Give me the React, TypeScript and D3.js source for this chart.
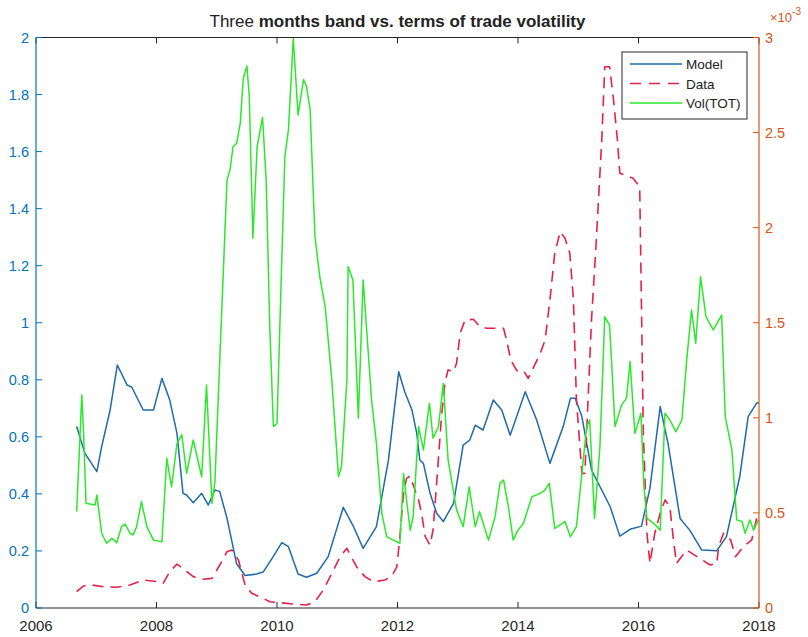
import React from "react";
import * as d3 from "d3";

// Model band (left axis)
const modelYears = [2006.675, 2006.81, 2007.01, 2007.09, 2007.23, 2007.35, 2007.51, 2007.59, 2007.78, 2007.95, 2008.09, 2008.22, 2008.34, 2008.44, 2008.5, 2008.61, 2008.75, 2008.86, 2008.97, 2009.05, 2009.17, 2009.33, 2009.47, 2009.66, 2009.77, 2009.9, 2010.08, 2010.19, 2010.35, 2010.49, 2010.66, 2010.85, 2011.1, 2011.27, 2011.43, 2011.65, 2011.85, 2012.02, 2012.12, 2012.24, 2012.32, 2012.37, 2012.43, 2012.54, 2012.65, 2012.76, 2012.93, 2013.09, 2013.2, 2013.29, 2013.42, 2013.59, 2013.73, 2013.87, 2014.12, 2014.31, 2014.53, 2014.75, 2014.87, 2014.95, 2015.06, 2015.22, 2015.53, 2015.69, 2015.86, 2016.05, 2016.19, 2016.36, 2016.49, 2016.69, 2016.85, 2017.05, 2017.3, 2017.46, 2017.68, 2017.82, 2017.96, 2018.0];
const modelValues = [0.636, 0.543, 0.478, 0.566, 0.694, 0.852, 0.782, 0.774, 0.694, 0.694, 0.805, 0.729, 0.612, 0.402, 0.396, 0.369, 0.402, 0.361, 0.414, 0.408, 0.315, 0.155, 0.114, 0.119, 0.126, 0.168, 0.229, 0.215, 0.119, 0.108, 0.122, 0.18, 0.353, 0.285, 0.209, 0.285, 0.519, 0.828, 0.758, 0.694, 0.612, 0.519, 0.507, 0.402, 0.332, 0.303, 0.367, 0.571, 0.589, 0.641, 0.624, 0.729, 0.694, 0.606, 0.758, 0.659, 0.507, 0.636, 0.735, 0.735, 0.671, 0.484, 0.355, 0.252, 0.276, 0.287, 0.42, 0.706, 0.577, 0.314, 0.273, 0.203, 0.201, 0.25, 0.46, 0.671, 0.718, 0.72];

// Measured band (right axis, x10^-3)
const dataYears = [2006.675, 2006.79, 2006.92, 2007.12, 2007.34, 2007.56, 2007.78, 2008.03, 2008.11, 2008.22, 2008.34, 2008.47, 2008.61, 2008.78, 2008.92, 2009.05, 2009.17, 2009.25, 2009.36, 2009.47, 2009.58, 2009.77, 2009.88, 2010.05, 2010.27, 2010.49, 2010.63, 2010.77, 2010.91, 2011.05, 2011.16, 2011.32, 2011.46, 2011.6, 2011.79, 2011.9, 2011.99, 2012.04, 2012.1, 2012.15, 2012.21, 2012.29, 2012.35, 2012.4, 2012.46, 2012.54, 2012.59, 2012.65, 2012.73, 2012.79, 2012.84, 2012.93, 2012.98, 2013.04, 2013.12, 2013.26, 2013.37, 2013.48, 2013.59, 2013.76, 2013.81, 2013.88, 2013.98, 2014.09, 2014.17, 2014.25, 2014.37, 2014.45, 2014.53, 2014.61, 2014.7, 2014.78, 2014.86, 2014.92, 2014.97, 2015.06, 2015.11, 2015.22, 2015.3, 2015.39, 2015.44, 2015.52, 2015.58, 2015.65, 2015.69, 2015.91, 2016.02, 2016.08, 2016.14, 2016.19, 2016.27, 2016.36, 2016.44, 2016.52, 2016.58, 2016.63, 2016.8, 2016.97, 2017.19, 2017.3, 2017.33, 2017.41, 2017.53, 2017.61, 2017.74, 2017.88, 2017.98];
const dataValues = [0.086, 0.116, 0.121, 0.112, 0.109, 0.121, 0.147, 0.138, 0.13, 0.191, 0.231, 0.2, 0.165, 0.151, 0.156, 0.226, 0.296, 0.305, 0.252, 0.121, 0.077, 0.051, 0.033, 0.028, 0.021, 0.016, 0.033, 0.095, 0.182, 0.27, 0.314, 0.217, 0.165, 0.138, 0.147, 0.165, 0.217, 0.375, 0.603, 0.682, 0.694, 0.62, 0.568, 0.498, 0.375, 0.331, 0.41, 0.656, 1.006, 1.19, 1.252, 1.243, 1.287, 1.445, 1.514, 1.518, 1.479, 1.471, 1.471, 1.471, 1.409, 1.304, 1.248, 1.248, 1.208, 1.26, 1.339, 1.409, 1.62, 1.865, 1.979, 1.944, 1.865, 1.62, 1.094, 0.708, 0.708, 1.514, 1.935, 2.461, 2.846, 2.846, 2.689, 2.461, 2.286, 2.26, 2.215, 0.919, 0.393, 0.235, 0.393, 0.498, 0.568, 0.533, 0.358, 0.235, 0.305, 0.27, 0.226, 0.235, 0.322, 0.393, 0.358, 0.27, 0.322, 0.358, 0.498];

// Terms of trade volatility (left axis)
const volYears = [2006.675, 2006.76, 2006.79, 2006.83, 2006.98, 2007.01, 2007.09, 2007.17, 2007.26, 2007.34, 2007.42, 2007.48, 2007.56, 2007.61, 2007.67, 2007.75, 2007.84, 2007.95, 2008.09, 2008.17, 2008.25, 2008.34, 2008.42, 2008.5, 2008.61, 2008.75, 2008.83, 2008.92, 2008.97, 2009.05, 2009.17, 2009.22, 2009.27, 2009.33, 2009.39, 2009.44, 2009.5, 2009.54, 2009.6, 2009.67, 2009.76, 2009.82, 2009.88, 2009.94, 2010.0, 2010.06, 2010.13, 2010.19, 2010.27, 2010.35, 2010.44, 2010.49, 2010.55, 2010.63, 2010.71, 2010.8, 2010.91, 2011.02, 2011.07, 2011.16, 2011.18, 2011.26, 2011.35, 2011.43, 2011.57, 2011.65, 2011.74, 2011.82, 2011.93, 2012.04, 2012.1, 2012.15, 2012.21, 2012.26, 2012.35, 2012.43, 2012.53, 2012.59, 2012.68, 2012.76, 2012.84, 2012.98, 2013.09, 2013.19, 2013.29, 2013.36, 2013.51, 2013.62, 2013.7, 2013.76, 2013.84, 2013.92, 2014.0, 2014.09, 2014.23, 2014.37, 2014.45, 2014.52, 2014.61, 2014.78, 2014.87, 2014.97, 2015.06, 2015.14, 2015.19, 2015.27, 2015.36, 2015.44, 2015.52, 2015.61, 2015.72, 2015.8, 2015.86, 2015.94, 2016.04, 2016.09, 2016.14, 2016.25, 2016.36, 2016.44, 2016.52, 2016.62, 2016.72, 2016.8, 2016.88, 2016.95, 2017.03, 2017.12, 2017.24, 2017.38, 2017.44, 2017.55, 2017.63, 2017.72, 2017.77, 2017.85, 2017.91, 2017.99];
const volValues = [0.338, 0.747, 0.612, 0.367, 0.361, 0.396, 0.262, 0.227, 0.244, 0.229, 0.285, 0.294, 0.262, 0.256, 0.285, 0.373, 0.285, 0.238, 0.232, 0.525, 0.425, 0.577, 0.607, 0.472, 0.589, 0.46, 0.782, 0.367, 0.443, 0.869, 1.5, 1.536, 1.617, 1.629, 1.699, 1.857, 1.9, 1.793, 1.296, 1.617, 1.72, 1.5, 0.986, 0.636, 0.647, 1.08, 1.582, 1.676, 1.997, 1.728, 1.853, 1.828, 1.746, 1.302, 1.161, 1.056, 0.799, 0.46, 0.495, 0.799, 1.197, 1.15, 0.665, 1.15, 0.729, 0.577, 0.332, 0.25, 0.238, 0.227, 0.472, 0.379, 0.273, 0.32, 0.636, 0.554, 0.718, 0.595, 0.636, 0.788, 0.519, 0.344, 0.285, 0.425, 0.285, 0.338, 0.238, 0.32, 0.437, 0.449, 0.355, 0.238, 0.273, 0.297, 0.39, 0.402, 0.414, 0.437, 0.279, 0.303, 0.25, 0.285, 0.472, 0.636, 0.659, 0.314, 0.566, 1.021, 0.992, 0.636, 0.712, 0.735, 0.864, 0.612, 0.683, 0.425, 0.314, 0.297, 0.273, 0.683, 0.659, 0.618, 0.659, 0.869, 1.045, 0.928, 1.161, 1.021, 0.975, 1.027, 0.671, 0.554, 0.309, 0.303, 0.262, 0.309, 0.273, 0.309];

const xTicks = [2006, 2008, 2010, 2012, 2014, 2016, 2018];
const leftTicks = [0, 0.2, 0.4, 0.6, 0.8, 1, 1.2, 1.4, 1.6, 1.8, 2];
const rightTicks = [0, 0.5, 1, 1.5, 2, 2.5, 3];
const legendItems = ["Model", "Data", "Vol(TOT)"];

const W = 808;
const H = 637;
const M = { left: 36, right: 759, top: 37.5, bottom: 608 };

const BLUE_AX = "#0072BD";
const ORANGE_AX = "#D95319";
const MODEL_C = "#1f6aa8";
const DATA_C = "#e5204a";
const VOL_C = "#2be82b";
const FONT = "'Liberation Sans', Arial, Helvetica, sans-serif";

export default function App() {
  const x = d3.scaleLinear().domain([2006, 2018]).range([M.left, M.right]);
  const yL = d3.scaleLinear().domain([0, 2]).range([M.bottom, M.top]);
  const yR = d3.scaleLinear().domain([0, 3]).range([M.bottom, M.top]);

  const toPts = (xs: number[], ys: number[]) => xs.map((t, i) => [t, ys[i]] as [number, number]);
  const lineL = d3.line<[number, number]>().x((d) => x(d[0])).y((d) => yL(d[1]));
  const lineR = d3.line<[number, number]>().x((d) => x(d[0])).y((d) => yR(d[1]));

  const modelPath = lineL(toPts(modelYears, modelValues)) || "";
  const volPath = lineL(toPts(volYears, volValues)) || "";
  const dataPath = lineR(toPts(dataYears, dataValues)) || "";

  const tickLen = 6;
  const legendColors = [MODEL_C, DATA_C, VOL_C];
  const legendDash = [undefined, "11,8", undefined];

  return (
    <svg
      width={W}
      height={H}
      style={{ position: "absolute", left: 0, top: 0, background: "#fff" }}
      fontFamily={FONT}
    >
      <rect x={0} y={0} width={W} height={H} fill="#fff" />

      <defs>
        <clipPath id="plotArea">
          <rect x={M.left} y={M.top - 2} width={M.right - M.left} height={M.bottom - M.top + 2} />
        </clipPath>
      </defs>

      {/* title */}
      <text x={(M.left + M.right) / 2} y={27} textAnchor="middle" fontSize={17} fill="#222">
        <tspan>Three </tspan>
        <tspan fontWeight="bold">months band vs. terms of trade volatility</tspan>
      </text>

      {/* series */}
      <g clipPath="url(#plotArea)" fill="none" strokeLinejoin="round" strokeLinecap="butt">
        <path d={modelPath} stroke={MODEL_C} strokeWidth={1.5} />
        <path d={dataPath} stroke={DATA_C} strokeWidth={1.6} strokeDasharray="11,7" />
        <path d={volPath} stroke={VOL_C} strokeWidth={1.5} />
      </g>

      {/* frame: top and bottom */}
      <line x1={M.left} x2={M.right} y1={M.bottom} y2={M.bottom} stroke="#262626" strokeWidth={1.2} />
      <line x1={M.left} x2={M.right} y1={M.top} y2={M.top} stroke="#262626" strokeWidth={1.2} />
      {xTicks.map((t) => (
        <g key={"xt" + t}>
          <line x1={x(t)} x2={x(t)} y1={M.bottom} y2={M.bottom - tickLen} stroke="#262626" />
          <line x1={x(t)} x2={x(t)} y1={M.top} y2={M.top + tickLen} stroke="#262626" />
          <text x={x(t)} y={M.bottom + 23} textAnchor="middle" fontSize={15} fill="#262626">
            {t}
          </text>
        </g>
      ))}

      {/* left axis */}
      <line x1={M.left} x2={M.left} y1={M.top} y2={M.bottom} stroke={BLUE_AX} strokeWidth={1.2} />
      {leftTicks.map((t) => (
        <g key={"yl" + t}>
          <line x1={M.left} x2={M.left + tickLen} y1={yL(t)} y2={yL(t)} stroke={BLUE_AX} />
          <text x={M.left - 7} y={yL(t) + 5} textAnchor="end" fontSize={14.5} fill={BLUE_AX}>
            {t}
          </text>
        </g>
      ))}

      {/* right axis */}
      <line x1={M.right} x2={M.right} y1={M.top} y2={M.bottom} stroke={ORANGE_AX} strokeWidth={1.2} />
      {rightTicks.map((t) => (
        <g key={"yr" + t}>
          <line x1={M.right} x2={M.right - tickLen} y1={yR(t)} y2={yR(t)} stroke={ORANGE_AX} />
          <text x={M.right + 6} y={yR(t) + 5} textAnchor="start" fontSize={14.5} fill={ORANGE_AX}>
            {t}
          </text>
        </g>
      ))}
      <text x={770} y={22} fontSize={13} fill={ORANGE_AX}>
        ×10
        <tspan dy={-7} fontSize={10}>
          -3
        </tspan>
      </text>

      {/* legend */}
      <g>
        <rect x={622} y={52} width={125} height={67} fill="#fff" stroke="#262626" strokeWidth={1} />
        {legendItems.map((name, i) => {
          const ly = 64 + i * 19.5;
          return (
            <g key={name}>
              <line
                x1={630}
                x2={682}
                y1={ly}
                y2={ly}
                stroke={legendColors[i]}
                strokeWidth={1.5}
                strokeDasharray={legendDash[i]}
              />
              <text x={686} y={ly + 5} fontSize={13.5} fill="#222">
                {name}
              </text>
            </g>
          );
        })}
      </g>
    </svg>
  );
}
